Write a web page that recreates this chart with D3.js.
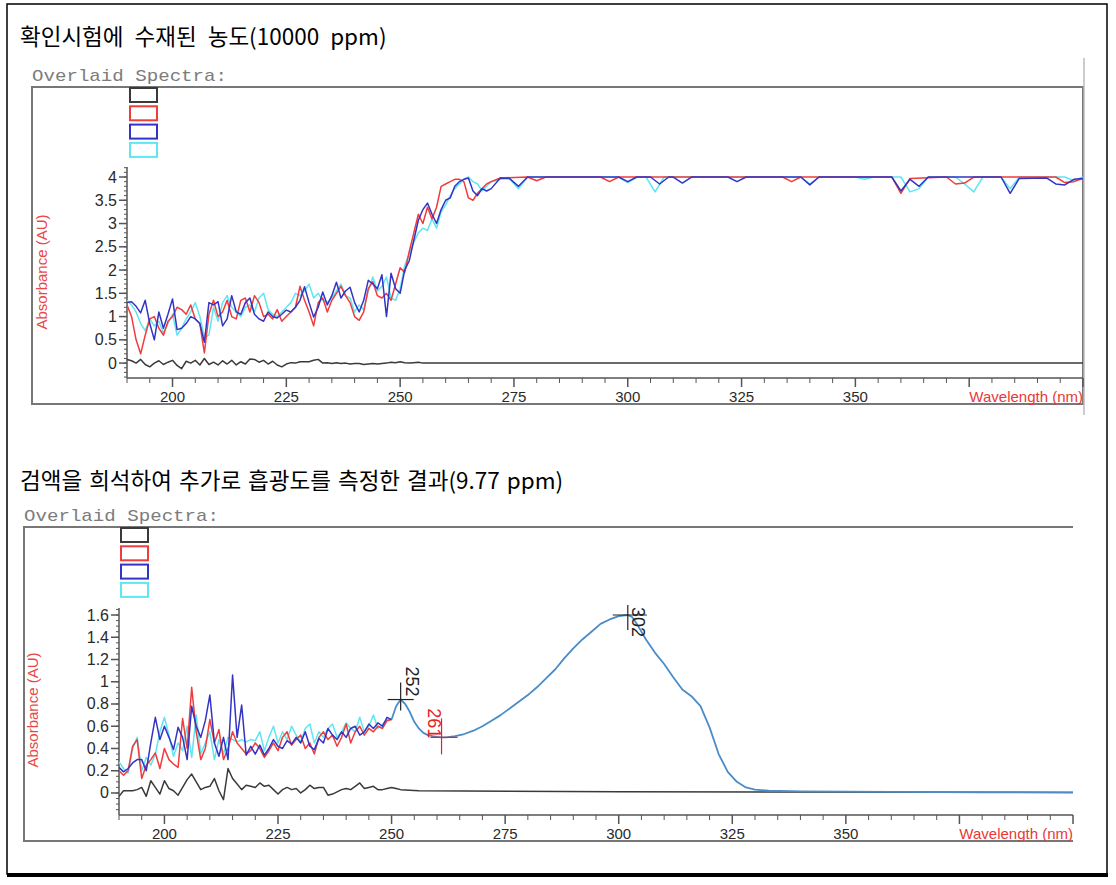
<!DOCTYPE html>
<html>
<head>
<meta charset="utf-8">
<script src="https://cdn.jsdelivr.net/npm/d3@7"></script>
<style>
	html, body { margin: 0; padding: 0; background: #fff; }
	svg { display: block; font-family: "Liberation Sans", Arial, sans-serif; }
</style>
</head>
<body>
<div id="container"></div>
<script>
"use strict";

// ---- data ----
// noisy parts are sampled every 1 nm starting at 190 nm
const nmStart = 190;

// top panel (10000 ppm), 190..270 nm
const topBlack = [0.08, 0.05, 0.0, 0.08, -0.03, -0.08, 0.0, 0.05, -0.03, 0.02,
	0.06, -0.05, -0.12, 0.04, 0.0, 0.06, -0.04, 0.1, -0.03, 0.02,
	-0.04, 0.05, -0.02, 0.06, -0.04, 0.03, -0.02, 0.09, 0.08, 0.02,
	0.06, -0.02, 0.04, -0.04, -0.08, -0.02, 0.01, 0.0, 0.03, 0.03,
	0.03, 0.06, 0.08, 0.0, 0.01, -0.01, 0.01, -0.01, 0.0, -0.02,
	-0.01, -0.01, -0.03, -0.02, -0.01, -0.02, -0.01, 0.0, 0.02, 0.01,
	0.03, 0.01, 0.0, 0.01, 0.02];
const topRed = [1.25, 1.0, 0.5, 0.2, 0.6, 0.95, 1.0, 0.75, 0.6, 0.9,
	1.0, 1.2, 1.15, 1.05, 1.25, 0.95, 0.85, 0.22, 1.05, 1.35,
	1.0, 1.1, 1.35, 1.0, 0.95, 1.35, 1.4, 1.1, 1.45, 1.3,
	1.0, 1.05, 0.95, 1.15, 0.9, 1.0, 1.1, 1.2, 1.65, 1.35,
	1.1, 0.8, 1.3, 1.4, 1.1, 1.35, 1.5, 1.65, 1.45, 1.3,
	1.0, 0.92, 1.1, 1.6, 1.75, 1.45, 1.4, 1.5, 1.35, 1.7,
	2.05, 1.95, 2.4, 2.8, 3.2, 3.0, 3.35, 3.1, 3.35, 3.8,
	3.85, 3.9, 3.95, 3.95, 3.9, 3.55, 3.5, 3.65, 3.75, 3.85, 3.9];
const topBlue = [1.3, 1.32, 1.22, 1.08, 1.35, 0.85, 0.5, 1.1, 0.75, 1.05,
	1.38, 0.72, 0.75, 0.85, 1.0, 0.95, 0.85, 0.45, 1.3, 1.25,
	1.32, 0.8, 0.95, 1.45, 1.1, 1.05, 1.3, 1.4, 1.05, 0.95,
	0.9, 1.1, 1.0, 0.97, 1.05, 1.14, 1.1, 1.2, 1.35, 1.64,
	1.3, 0.99, 1.2, 1.53, 1.25, 1.45, 1.74, 1.4, 1.55, 1.63,
	1.3, 1.1, 1.35, 1.78, 1.7, 1.6, 1.9, 1.0, 1.93, 1.6,
	1.5, 2.0, 2.2, 2.64, 3.07, 3.3, 3.44, 3.2, 3.0, 3.3,
	3.5, 3.55, 3.8, 3.9, 3.95, 3.98, 3.7, 3.6, 3.75, 3.7, 3.75];
const topCyan = [1.35, 1.25, 1.1, 0.85, 0.7, 0.95, 0.8, 0.9, 0.65, 0.85,
	1.05, 0.6, 0.75, 0.95, 1.1, 1.3, 1.0, 0.55, 0.6, 1.2,
	0.9, 1.3, 1.45, 1.2, 1.1, 1.0, 1.2, 1.25, 1.1, 1.4,
	1.5, 1.15, 1.05, 1.0, 1.1, 1.2, 1.3, 1.5, 1.45, 1.55,
	1.7, 1.4, 1.5, 1.35, 1.3, 1.4, 1.55, 1.7, 1.45, 1.4,
	1.1, 1.25, 1.15, 1.55, 1.85, 1.55, 1.65, 1.85, 1.4, 1.35,
	1.6, 2.1, 2.35, 2.6, 2.8, 2.9, 2.85, 3.1, 2.9, 3.25,
	3.4, 3.6, 3.75, 3.85, 3.95, 4.0, 3.9, 3.85, 3.7, 3.8, 3.9];
// plateau read as [nm, absorbance] points
const topBlackRest = [[255, 0.0], [400, 0.0]];
const topRedRest = [[272, 3.98], [278, 4.0], [280, 3.92], [282, 4.0], [294, 4.0], [296, 3.9],
	[298, 4.0], [334, 4.0], [336, 3.9], [338, 4.0], [358, 4.0], [360, 3.65], [362, 3.97],
	[370, 4.0], [372, 3.85], [374, 3.87], [376, 4.0], [394, 4.0], [396, 3.88], [398, 3.9], [400, 3.97]];
const topBlueRest = [[272, 3.98], [274, 3.97], [276, 3.8], [278, 4.0], [298, 4.0], [300, 3.9],
	[302, 4.0], [305, 4.0], [307, 3.85], [309, 4.0], [310, 4.0], [312, 3.87], [314, 4.0],
	[322, 4.0], [324, 3.9], [326, 4.0], [338, 4.0], [340, 3.83], [342, 4.0], [358, 4.0],
	[360, 3.7], [362, 3.95], [364, 3.8], [366, 4.0], [382, 4.0], [384, 3.65], [386, 3.97],
	[392, 3.98], [394, 3.85], [396, 3.83], [398, 3.95], [400, 3.97]];
const topCyanRest = [[272, 3.95], [274, 3.97], [276, 3.75], [278, 4.0], [298, 4.0], [300, 3.88],
	[302, 4.0], [304, 4.0], [306, 3.68], [308, 4.0], [338, 4.0], [340, 3.85], [342, 4.0],
	[350, 4.0], [352, 3.95], [354, 4.0], [360, 4.0], [362, 3.68], [364, 3.75], [366, 4.0],
	[372, 4.0], [374, 3.85], [376, 3.68], [378, 4.0], [382, 4.0], [384, 3.75], [386, 4.0],
	[396, 4.0], [398, 3.92], [400, 4.0]];

// bottom panel (9.77 ppm), 190..250 nm (black up to 252)
const botBlack = [-0.03, 0.02, 0.02, 0.02, 0.03, 0.05, -0.03, 0.11, 0.05, -0.01,
	0.11, 0.04, 0.02, -0.02, 0.05, 0.12, 0.17, 0.1, 0.03, 0.05,
	0.06, 0.13, 0.02, -0.06, 0.22, 0.13, 0.08, 0.03, 0.07, 0.06,
	0.05, 0.09, 0.06, 0.07, 0.03, -0.01, 0.03, 0.05, 0.03, 0.04,
	0.0, 0.03, 0.07, 0.04, 0.05, 0.05, -0.02, -0.01, 0.01, 0.03,
	0.04, 0.03, 0.06, 0.09, 0.04, 0.05, 0.06, 0.03, 0.03, 0.04,
	0.05, 0.04, 0.03];
const botRed = [0.2, 0.16, 0.2, 0.42, 0.48, 0.13, 0.25, 0.3, 0.36, 0.22,
	0.4, 0.3, 0.26, 0.23, 0.67, 0.4, 0.95, 0.55, 0.3, 0.4,
	0.66, 0.45, 0.57, 0.3, 0.4, 0.55, 0.45, 0.4, 0.35, 0.38,
	0.45, 0.4, 0.32, 0.38, 0.45, 0.38, 0.5, 0.55, 0.43, 0.48,
	0.52, 0.4, 0.45, 0.35, 0.5, 0.55, 0.48, 0.52, 0.42, 0.5,
	0.62, 0.45, 0.55, 0.6, 0.52, 0.58, 0.55, 0.6, 0.58, 0.65, 0.66];
const botBlue = [0.23, 0.19, 0.22, 0.27, 0.3, 0.3, 0.2, 0.45, 0.68, 0.48,
	0.6, 0.5, 0.39, 0.59, 0.5, 0.3, 0.78, 0.6, 0.5, 0.65,
	0.88, 0.45, 0.33, 0.5, 0.3, 1.06, 0.5, 0.79, 0.34, 0.42,
	0.35, 0.43, 0.34, 0.4, 0.48, 0.42, 0.4, 0.47, 0.44, 0.5,
	0.45, 0.55, 0.42, 0.39, 0.49, 0.45, 0.58, 0.52, 0.48, 0.55,
	0.5, 0.58, 0.6, 0.52, 0.55, 0.62, 0.58, 0.63, 0.6, 0.68, 0.66];
const botCyan = [0.28, 0.22, 0.18, 0.4, 0.5, 0.2, 0.32, 0.25, 0.35, 0.55,
	0.68, 0.52, 0.33, 0.45, 0.38, 0.6, 0.32, 0.7, 0.35, 0.45,
	0.55, 0.3, 0.48, 0.35, 0.5, 0.48, 0.46, 0.48, 0.46, 0.48,
	0.47, 0.55, 0.38, 0.5, 0.6, 0.45, 0.55, 0.48, 0.6, 0.52,
	0.46, 0.58, 0.62, 0.45, 0.55, 0.5, 0.58, 0.62, 0.5, 0.55,
	0.63, 0.58, 0.55, 0.68, 0.55, 0.6, 0.7, 0.58, 0.62, 0.66, 0.66];
// where all four coloured traces coincide
const botShared = [[250, 0.66], [251, 0.78], [252, 0.84], [253, 0.8], [254, 0.73], [255, 0.64],
	[256, 0.58], [257, 0.54], [258, 0.52], [259, 0.51], [260, 0.505], [261, 0.5], [262, 0.5],
	[264, 0.51], [266, 0.53], [268, 0.56], [270, 0.6], [272, 0.65], [274, 0.7], [276, 0.76],
	[278, 0.82], [280, 0.88], [282, 0.95], [284, 1.03], [286, 1.11], [288, 1.21], [290, 1.3],
	[292, 1.38], [294, 1.45], [296, 1.52], [298, 1.56], [300, 1.59], [302, 1.6], [303, 1.58],
	[304, 1.52], [306, 1.38], [308, 1.26], [310, 1.16], [312, 1.04], [314, 0.93], [316, 0.87],
	[318, 0.78], [320, 0.59], [322, 0.35], [324, 0.19], [326, 0.1], [328, 0.05], [330, 0.03],
	[333, 0.02], [340, 0.015], [360, 0.01], [380, 0.006], [400, 0.005]];
const botBlackRest = [[252, 0.03], [256, 0.02], [300, 0.01], [400, 0.005]];

// peak / valley picks on the bottom trace
const pickNm = [252, 261, 302];
const pickAbs = [0.84, 0.5, 1.6];
const pickLabels = ["252", "261", "302"];

// axis ticks
const xLabelTicks = [200, 225, 250, 275, 300, 325, 350];
const topYTicks = [0, 0.5, 1, 1.5, 2, 2.5, 3, 3.5, 4];
const botYTicks = [0, 0.2, 0.4, 0.6, 0.8, 1, 1.2, 1.4, 1.6];

const titles = ["확인시험에 수재된 농도(10000 ppm)", "검액을 희석하여 추가로 흡광도를 측정한 결과(9.77 ppm)"];

// ---- styles ----
const colBlack = "#3a3a3a";
const colRed = "#f03c3c";
const colBlue = "#3434c4";
const colCyan = "#5fe6f0";
const colShared = "#4a8cc8";
const colAxis = "#555";

const W = 1116, H = 885;
const svg = d3.select("#container").append("svg").attr("width", W).attr("height", H);

// outer page border
svg.append("rect").attr("x", 7).attr("y", 4).attr("width", 1100).attr("height", 870)
	.attr("fill", "none").attr("stroke", "#000").attr("stroke-width", 1.5);
svg.append("line").attr("x1", 7).attr("x2", 1108).attr("y1", 875).attr("y2", 875)
	.attr("stroke", "#000").attr("stroke-width", 4);

const toPairs = (arr) => arr.map((v, i) => [nmStart + i, v]);

function drawPanel(cfg) {
	const g = svg.append("g");
	const x = d3.scaleLinear().domain([190, 400]).range([cfg.left, cfg.right]);
	const y = d3.scaleLinear().domain(cfg.yDomain).range([cfg.bottom, cfg.top]);

	// title (the source uses wide word gaps)
	g.append("text").attr("x", 20).attr("y", cfg.titleY)
		.attr("font-family", "'Noto Sans CJK KR', sans-serif").attr("font-size", 22.5)
		.attr("word-spacing", cfg.titleGap).attr("fill", "#000")
		.text(cfg.title);

	// "Overlaid Spectra:" header
	g.append("text").attr("x", cfg.frame[0]).attr("y", cfg.frame[1] - 6)
		.attr("font-family", "'Liberation Mono', 'DejaVu Sans Mono', monospace")
		.attr("font-size", 17).attr("fill", "#7c7c7c")
		.attr("textLength", 195).attr("lengthAdjust", "spacingAndGlyphs")
		.text("Overlaid Spectra:");

	// frame
	const [fx0, fy0, fx1, fy1] = cfg.frame;
	const framePath = cfg.closed
		? `M${fx0},${fy0}H${fx1}V${fy1}H${fx0}Z`
		: `M${fx1},${fy0}H${fx0}V${fy1}H${fx1}`;
	g.append("path").attr("d", framePath).attr("fill", "none")
		.attr("stroke", "#777").attr("stroke-width", 2);
	if (cfg.closed) {
		g.append("line").attr("x1", fx1 + 1).attr("x2", fx1 + 1).attr("y1", 58).attr("y2", 415)
			.attr("stroke", "#bbb").attr("stroke-width", 1.5);
	}

	// legend boxes
	[colBlack, colRed, colBlue, colCyan].forEach((c, i) => {
		g.append("rect").attr("x", cfg.legendX).attr("y", cfg.legendY + i * 18.3)
			.attr("width", 27).attr("height", 14).attr("fill", "none")
			.attr("stroke", c).attr("stroke-width", 2);
	});

	// y axis
	const ya = g.append("g").attr("stroke", colAxis);
	ya.append("line").attr("x1", cfg.left).attr("x2", cfg.left)
		.attr("y1", cfg.top).attr("y2", cfg.bottom).attr("stroke-width", 1.5);
	d3.range(cfg.minorStart, cfg.yDomain[1], cfg.minorStep).forEach((v) => {
		ya.append("line").attr("x1", cfg.left - 3).attr("x2", cfg.left)
			.attr("y1", y(v)).attr("y2", y(v)).attr("stroke-width", 1);
	});
	cfg.yTicks.forEach((v) => {
		ya.append("line").attr("x1", cfg.left - 8).attr("x2", cfg.left)
			.attr("y1", y(v)).attr("y2", y(v)).attr("stroke-width", 1.5);
		g.append("text").attr("x", cfg.left - 10).attr("y", y(v) + 5.5)
			.attr("text-anchor", "end").attr("font-size", 16).attr("fill", "#2a2a2a")
			.text(String(+v.toFixed(1)));
	});
	g.append("text")
		.attr("transform", `translate(${cfg.yLabelX},${cfg.yLabelY}) rotate(-90)`)
		.attr("text-anchor", "middle").attr("font-size", 15).attr("fill", "#e84848")
		.text("Absorbance (AU)");

	// x axis
	const xa = g.append("g").attr("stroke", colAxis);
	xa.append("line").attr("x1", cfg.left).attr("x2", cfg.right)
		.attr("y1", cfg.bottom).attr("y2", cfg.bottom).attr("stroke-width", 1.5);
	d3.range(190, 401, 5).forEach((v) => {
		const major = (v - 200) % 25 === 0 && v >= 200;
		xa.append("line").attr("x1", x(v)).attr("x2", x(v))
			.attr("y1", cfg.bottom).attr("y2", cfg.bottom + (major ? 9 : 5))
			.attr("stroke-width", major ? 1.5 : 1);
	});
	xLabelTicks.forEach((v) => {
		g.append("text").attr("x", x(v)).attr("y", cfg.bottom + 24)
			.attr("text-anchor", "middle").attr("font-size", 15).attr("fill", "#2a2a2a")
			.text(v);
	});
	g.append("text").attr("x", cfg.right).attr("y", cfg.bottom + 24)
		.attr("text-anchor", "end").attr("font-size", 15).attr("fill", "#e83838")
		.text("Wavelength (nm)");

	// traces
	const clipId = "clip" + cfg.id;
	g.append("clipPath").attr("id", clipId).append("rect")
		.attr("x", cfg.left).attr("y", cfg.top - 10)
		.attr("width", cfg.right - cfg.left).attr("height", cfg.bottom - cfg.top + 10);
	const line = d3.line().x((d) => x(d[0])).y((d) => y(d[1]));
	const traces = g.append("g").attr("clip-path", `url(#${clipId})`).attr("fill", "none")
		.attr("stroke-linejoin", "round");
	cfg.series.forEach((s) => {
		traces.append("path").attr("d", line(s.data)).attr("stroke", s.color)
			.attr("stroke-width", s.width || 1.5);
	});

	return { x, y, g };
}

// top panel
drawPanel({
	id: "top",
	title: titles[0],
	titleY: 45,
	titleGap: 6,
	frame: [32, 87, 1083, 404],
	closed: true,
	legendX: 130, legendY: 88,
	left: 127, right: 1083, top: 167, bottom: 378,
	yDomain: [-0.32, 4.215],
	yTicks: topYTicks,
	minorStart: -0.3, minorStep: 0.1,
	yLabelX: 47, yLabelY: 272,
	series: [
		{ color: colBlack, data: toPairs(topBlack).concat(topBlackRest) },
		{ color: colCyan, data: toPairs(topCyan).concat(topCyanRest) },
		{ color: colRed, data: toPairs(topRed).concat(topRedRest) },
		{ color: colBlue, data: toPairs(topBlue).concat(topBlueRest) },
	],
});

// bottom panel
const bot = drawPanel({
	id: "bot",
	title: titles[1],
	titleY: 489,
	titleGap: 2,
	frame: [24, 527, 1073, 841],
	closed: false,
	legendX: 121, legendY: 528,
	left: 119, right: 1073, top: 608, bottom: 815,
	yDomain: [-0.198, 1.663],
	yTicks: botYTicks,
	minorStart: -0.15, minorStep: 0.05,
	yLabelX: 38, yLabelY: 710,
	series: [
		{ color: colBlack, data: toPairs(botBlack).concat(botBlackRest) },
		{ color: colCyan, data: toPairs(botCyan) },
		{ color: colRed, data: toPairs(botRed) },
		{ color: colBlue, data: toPairs(botBlue) },
		{ color: colShared, data: botShared, width: 1.8 },
	],
});

// peak picks: crosshair + rotated label
const pickStyle = [
	{ color: "#222", h: [-13, 13], v: [-17, 11], tx: 5, ty: -3, anchor: "end" },
	{ color: "#e82020", h: [-11, 16], v: [-19, 17], tx: -14, ty: 1, anchor: "end" },
	{ color: "#222", h: [-15, 19], v: [-10, 15], tx: 4, ty: -8, anchor: "start" },
];
pickNm.forEach((nm, i) => {
	const cx = bot.x(nm), cy = bot.y(pickAbs[i]), st = pickStyle[i];
	const pg = bot.g.append("g").attr("stroke", st.color).attr("stroke-width", 1.2);
	pg.append("line").attr("x1", cx + st.h[0]).attr("x2", cx + st.h[1]).attr("y1", cy).attr("y2", cy);
	pg.append("line").attr("x1", cx).attr("x2", cx).attr("y1", cy + st.v[0]).attr("y2", cy + st.v[1]);
	bot.g.append("text")
		.attr("transform", `translate(${cx + st.tx},${cy + st.ty}) rotate(90)`)
		.attr("text-anchor", st.anchor).attr("font-size", 18).attr("fill", st.color)
		.text(pickLabels[i]);
});
</script>
</body>
</html>
